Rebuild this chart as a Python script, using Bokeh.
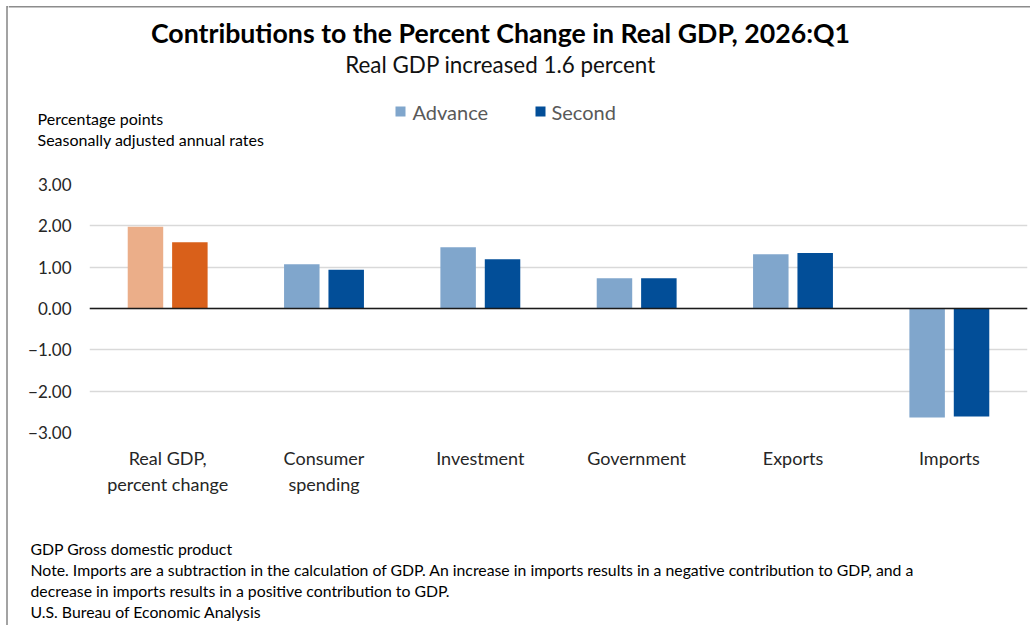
from bokeh.plotting import figure
from bokeh.models import ColumnDataSource, FactorRange, Range1d, FixedTicker, Span
from bokeh.layouts import column, row
from bokeh.transform import dodge
from bokeh.core.properties import value
from bokeh.embed import file_html
from bokeh.resources import INLINE

categories = ["Real GDP,\npercent change", "Consumer\nspending", "Investment",
              "Government", "Exports", "Imports"]
advance = [1.98, 1.07, 1.48, 0.73, 1.31, -2.64]
second = [1.60, 0.94, 1.19, 0.73, 1.34, -2.61]
y_ticks = [-3, -2, -1, 0, 1, 2, 3]
y_tick_labels = ["\u22123.00", "\u22122.00", "\u22121.00", "0.00", "1.00", "2.00", "3.00"]
series_names = ["Advance", "Second"]

title = "Contributions to the Percent Change in Real GDP, 2026:Q1"
subtitle = "Real GDP increased 1.6 percent"
unit_lines = ["Percentage points", "Seasonally adjusted annual rates"]
notes = ["GDP Gross domestic product",
         "Note. Imports are a subtraction in the calculation of GDP. An increase in imports results in a negative contribution to GDP, and a",
         "decrease in imports results in a positive contribution to GDP.",
         "U.S. Bureau of Economic Analysis"]

FONT = "Lato"
ADV_BLUE, SEC_BLUE = "#80A6CC", "#024E98"
ADV_ORANGE, SEC_ORANGE = "#EBAE89", "#D9601A"
BORDER = "#8c8c8c"

adv_colors = [ADV_ORANGE if i == 0 else ADV_BLUE for i in range(len(categories))]
sec_colors = [SEC_ORANGE if i == 0 else SEC_BLUE for i in range(len(categories))]

SW = 8            # left strip carrying the frame border
W = 1022          # width of the content column
HH, MH, FH = 150, 380, 95
TOTAL_H = HH + MH + FH


def blank(width, height):
    f = figure(width=width, height=height, x_range=Range1d(0, width), y_range=Range1d(height, 0),
               x_axis_location=None, y_axis_location=None, min_border=0,
               toolbar_location=None, output_backend="svg", frame_align=False)
    f.grid.visible = False
    f.outline_line_color = None
    return f


def txt(f, x, y, text, size, bold=False, align="left", color="#000000"):
    f.text(x=x, y=y, text=text, text_font=value(FONT), text_font_size=value(size),
           text_font_style="bold" if bold else "normal", text_align=align,
           text_baseline="middle", text_color=color)


# ---- left strip with the outer border ----
strip = blank(SW, TOTAL_H)
strip.segment(x0=[6.5], y0=[5.5], x1=[6.5], y1=[TOTAL_H], line_color=BORDER, line_width=1.6)
strip.segment(x0=[6.5], y0=[6.3], x1=[SW], y1=[6.3], line_color=BORDER, line_width=1.6)

# ---- header ----
head = blank(W, HH)
head.segment(x0=[0], y0=[6.3], x1=[W], y1=[6.3], line_color=BORDER, line_width=1.6)
txt(head, [492], [32], [title], "26.7px", bold=True, align="center")
txt(head, [492], [64], [subtitle], "22.4px", align="center", color="#111111")
txt(head, [29, 29], [118, 139], unit_lines, "16px")
head.scatter(x=[392], y=[111], marker="square", size=10, fill_color=ADV_BLUE, line_color=None)
head.scatter(x=[532], y=[111], marker="square", size=10, fill_color=SEC_BLUE, line_color=None)
txt(head, [404, 543], [111, 111], series_names, "20px", color="#595959")

# ---- main chart ----
src = ColumnDataSource(dict(cat=categories, adv=advance, sec=second,
                            adv_c=adv_colors, sec_c=sec_colors))
p = figure(width=W, height=MH, x_range=FactorRange(*categories), y_range=Range1d(-3, 3),
           output_backend="svg", toolbar_location=None, frame_align=False,
           min_border_left=81, min_border_right=3, min_border_top=34, min_border_bottom=98)
p.outline_line_color = None

p.vbar(x=dodge("cat", -0.142, range=p.x_range), top="adv", width=0.227, source=src,
       fill_color="adv_c", line_color=None)
p.vbar(x=dodge("cat", 0.142, range=p.x_range), top="sec", width=0.227, source=src,
       fill_color="sec_c", line_color=None)

p.add_layout(Span(location=0, dimension="width", line_color="#1a1a1a", line_width=1.5))

p.xgrid.grid_line_color = None
p.ygrid.grid_line_color = "#d9d9d9"
p.ygrid.grid_line_width = 1.3

p.yaxis.ticker = FixedTicker(ticks=y_ticks)
p.yaxis.major_label_overrides = {t: l for t, l in zip(y_ticks, y_tick_labels)}
p.yaxis.axis_line_color = None
p.yaxis.major_tick_line_color = None
p.yaxis.minor_tick_line_color = None
p.yaxis.major_tick_out = 0
p.yaxis.major_tick_in = 0
p.yaxis.major_label_standoff = 18
p.yaxis.major_label_text_font = FONT
p.yaxis.major_label_text_font_size = "17px"
p.yaxis.major_label_text_color = "#262626"

p.xaxis.axis_line_color = None
p.xaxis.major_tick_line_color = None
p.xaxis.major_tick_out = 0
p.xaxis.major_tick_in = 0
p.xaxis.major_label_standoff = 14
p.xaxis.major_label_text_font = FONT
p.xaxis.major_label_text_font_size = "18px"
p.xaxis.major_label_text_color = "#262626"

# ---- footer ----
foot = blank(W, FH)
txt(foot, [22] * len(notes), [18 + 21 * i for i in range(len(notes))], notes, "15.8px")

layout = row(strip, column(head, p, foot, spacing=0), spacing=0)
open("out.html", "w").write(file_html(layout, INLINE))
